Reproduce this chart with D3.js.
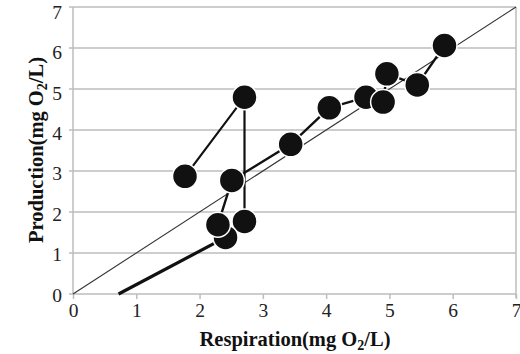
<!DOCTYPE html>
<html>
<head>
<meta charset="utf-8">
<script src="https://cdn.jsdelivr.net/npm/d3@7"></script>
<style>
  html, body { margin: 0; padding: 0; background: #fff; }
  svg { display: block; }
</style>
</head>
<body>
<svg id="chart" width="520" height="354"></svg>
<script>
// Axis ticks
const xTicks = [0, 1, 2, 3, 4, 5, 6, 7];
const yTicks = [0, 1, 2, 3, 4, 5, 6, 7];

// Main sequence of samples (respiration vs production, mg O2/L)
const respMain = [2.41, 2.29, 2.51, 3.44, 4.05, 4.63, 4.90, 4.96, 5.44, 5.87];
const prodMain = [1.38, 1.69, 2.77, 3.65, 4.54, 4.80, 4.68, 5.37, 5.10, 6.06];

// Separate excursion connected by its own line
const respLoop = [1.77, 2.71, 2.71];
const prodLoop = [2.87, 4.80, 1.77];

// Heavy segment leading into the first sample
const respLead = [0.72, 2.41];
const prodLead = [0.00, 1.38];

// 1:1 reference line
const respRef = [0, 7];
const prodRef = [0, 7];

const svg = d3.select("#chart");
const x = d3.scaleLinear().domain([0, 7]).range([73, 516]);
const y = d3.scaleLinear().domain([0, 7]).range([294, 7]);
// value labels on the left sit slightly below their gridlines toward the top
const yLabel = d3.scaleLinear().domain([0, 7]).range([295, 12]);

const grid = "#bdbdbd";
const serif = "'Liberation Serif', 'Times New Roman', serif";

// Horizontal gridlines
svg.append("g").selectAll("line").data(yTicks).join("line")
  .attr("x1", x(0) - 4).attr("x2", x(7))
  .attr("y1", d => y(d)).attr("y2", d => y(d))
  .attr("stroke", grid).attr("stroke-width", 1.5);

// Frame sides
svg.append("line").attr("x1", x(0)).attr("x2", x(0)).attr("y1", y(7)).attr("y2", y(0))
  .attr("stroke", grid).attr("stroke-width", 1.5);
svg.append("line").attr("x1", x(7)).attr("x2", x(7)).attr("y1", y(7)).attr("y2", y(0) + 4)
  .attr("stroke", grid).attr("stroke-width", 1.5);

// X axis ticks and labels
const xAxis = d3.axisBottom(x).tickValues(xTicks).tickFormat(d3.format("d")).tickSize(5).tickPadding(4);
const gx = svg.append("g").attr("transform", `translate(0,${y(0)})`).call(xAxis);
gx.select(".domain").remove();
gx.selectAll(".tick line").attr("stroke", grid).attr("stroke-width", 1.5);
gx.selectAll(".tick text").attr("font-family", serif)
  .attr("font-size", 19.5).attr("fill", "#222");

// Y axis labels
const yAxis = d3.axisLeft(yLabel).tickValues(yTicks).tickFormat(d3.format("d")).tickSize(0).tickPadding(11);
const gy = svg.append("g").attr("transform", `translate(${x(0)},0)`).call(yAxis);
gy.select(".domain").remove();
gy.selectAll(".tick text").attr("font-family", serif)
  .attr("font-size", 19.5).attr("fill", "#222");

const line = d3.line().x(d => x(d[0])).y(d => y(d[1]));
const zipPts = (a, b) => a.map((v, i) => [v, b[i]]);

// 1:1 line
svg.append("path").datum(zipPts(respRef, prodRef)).attr("d", line)
  .attr("fill", "none").attr("stroke", "#333").attr("stroke-width", 1.1);

// Heavy lead-in segment
svg.append("path").datum(zipPts(respLead, prodLead)).attr("d", line)
  .attr("fill", "none").attr("stroke", "#111").attr("stroke-width", 3.2);

// Connecting lines
svg.append("path").datum(zipPts(respLoop, prodLoop)).attr("d", line)
  .attr("fill", "none").attr("stroke", "#111").attr("stroke-width", 2.2);
svg.append("path").datum(zipPts(respMain, prodMain)).attr("d", line)
  .attr("fill", "none").attr("stroke", "#111").attr("stroke-width", 2.4);

// Markers
const pts = zipPts(respLoop, prodLoop).concat(zipPts(respMain, prodMain));
svg.append("g").selectAll("circle").data(pts).join("circle")
  .attr("cx", d => x(d[0])).attr("cy", d => y(d[1])).attr("r", 12.5)
  .attr("fill", "#111").attr("stroke", "#fff").attr("stroke-width", 1.5);

// Axis titles
const xt = svg.append("text").attr("x", 295).attr("y", 346)
  .attr("text-anchor", "middle").attr("font-family", serif)
  .attr("font-size", 20.5).attr("font-weight", "bold").attr("fill", "#111");
xt.append("tspan").text("Respiration(mg O");
xt.append("tspan").attr("font-size", 14).attr("dy", 4).text("2");
xt.append("tspan").attr("dy", -4).text("/L)");

const yt = svg.append("text").attr("transform", "translate(43,150) rotate(-90)")
  .attr("text-anchor", "middle").attr("font-family", serif)
  .attr("font-size", 20.5).attr("font-weight", "bold").attr("fill", "#111");
yt.append("tspan").text("Production(mg O");
yt.append("tspan").attr("font-size", 14).attr("dy", 4).text("2");
yt.append("tspan").attr("dy", -4).text("/L)");
</script>
</body>
</html>
